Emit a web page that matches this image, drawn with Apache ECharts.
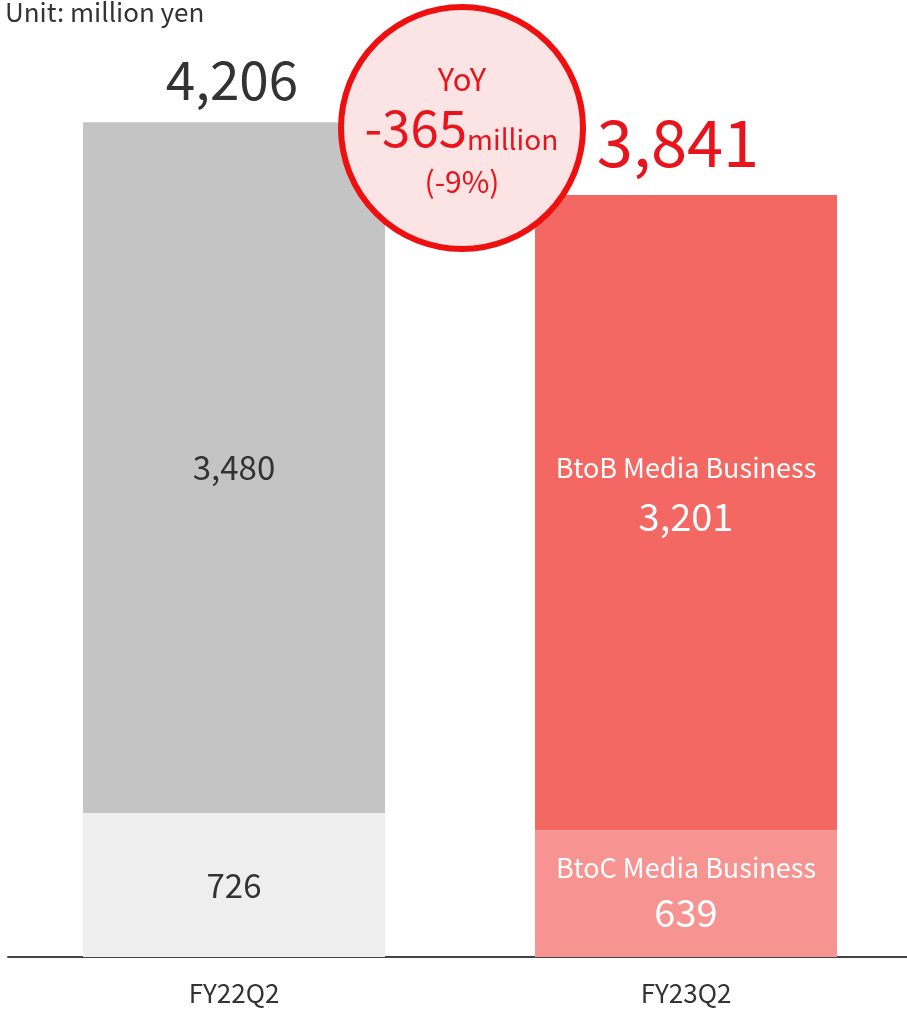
<!DOCTYPE html>
<html>
<head>
<meta charset="utf-8">
<script src="https://cdn.jsdelivr.net/npm/echarts@6/dist/echarts.min.js"></script>
<style>
  html, body { margin: 0; padding: 0; background: #fff; overflow: hidden; }
  #chart { width: 912px; height: 1011px; }
</style>
</head>
<body>
<div id="chart"></div>
<script>
// Net sales by segment (million yen)
const periods = ['FY22Q2', 'FY23Q2'];
const btocSales = [726, 639];
const btobSales = [3480, 3201];
const totalSales = [4206, 3841];
const segmentNames = ['BtoB Media Business', 'BtoC Media Business'];
const unitText = 'Unit: million yen';

const FONT = '"Noto Sans CJK JP", "Noto Sans", sans-serif';
const fmt = v => v.toLocaleString('en-US');

const yoyDiff = totalSales[1] - totalSales[0];
const yoyPct = Math.round(yoyDiff / totalSales[0] * 100);

const grayTop = '#c4c4c4', grayBottom = '#efefef';
const redTop = '#f46864', redBottom = '#f79492';
const RED = '#e8141b';
const BADGE_Z = 100; // badge sits above the bars

const chart = echarts.init(document.getElementById('chart'), null, { renderer: 'canvas' });

chart.setOption({
  animation: false,
  textStyle: { fontFamily: FONT },
  grid: { left: 8, right: 0, top: 64, bottom: 54, containLabel: false },
  xAxis: {
    type: 'category',
    data: periods,
    axisLine: { lineStyle: { color: '#444', width: 2 } },
    axisTick: { show: false },
    axisLabel: { fontSize: 26, color: '#333', margin: 23, fontFamily: FONT }
  },
  yAxis: {
    type: 'value', min: 0, max: 4500,
    show: false, splitLine: { show: false }
  },
  series: [
    {
      name: segmentNames[1], type: 'bar', stack: 'sales', barWidth: 302,
      data: [
        {
          value: btocSales[0], itemStyle: { color: grayBottom },
          label: { show: true, position: 'inside', color: '#333', fontSize: 33, formatter: p => fmt(p.value) }
        },
        {
          value: btocSales[1], itemStyle: { color: redBottom },
          label: {
            show: true, position: 'inside', offset: [0, -2],
            formatter: p => '{n|' + segmentNames[1] + '}\n{v|' + fmt(p.value) + '}',
            rich: {
              n: { fontSize: 27, lineHeight: 42, color: '#fff', fontFamily: FONT },
              v: { fontSize: 38, lineHeight: 48, color: '#fff', fontFamily: FONT }
            }
          }
        }
      ]
    },
    {
      name: segmentNames[0], type: 'bar', stack: 'sales', barWidth: 302,
      data: [
        {
          value: btobSales[0], itemStyle: { color: grayTop },
          label: { show: true, position: 'inside', color: '#333', fontSize: 33, formatter: p => fmt(p.value) }
        },
        {
          value: btobSales[1], itemStyle: { color: redTop },
          label: {
            show: true, position: 'inside', offset: [0, -19],
            formatter: p => '{n|' + segmentNames[0] + '}\n{v|' + fmt(p.value) + '}',
            rich: {
              n: { fontSize: 27, lineHeight: 46, color: '#fff', fontFamily: FONT },
              v: { fontSize: 38, lineHeight: 52, color: '#fff', fontFamily: FONT }
            }
          }
        }
      ]
    },
    {
      name: 'Total', type: 'bar', barWidth: 302, barGap: '-100%', z: 1,
      itemStyle: { color: 'rgba(0,0,0,0)' },
      data: [
        {
          value: totalSales[0],
          label: { show: true, position: 'top', distance: 16, color: '#333', fontSize: 53, offset: [-2, 0], formatter: p => fmt(p.value) }
        },
        {
          value: totalSales[1],
          label: { show: true, position: 'top', distance: 20, color: RED, fontSize: 65, offset: [-8, 0], formatter: p => fmt(p.value) }
        }
      ]
    }
  ],
  graphic: [
    {
      type: 'text', left: 5, top: -1, z: BADGE_Z,
      style: { text: unitText, font: '26px ' + FONT, fill: '#333' }
    },
    {
      // year-on-year badge
      type: 'group', x: 462, y: 128, z: BADGE_Z,
      children: [
        {
          type: 'circle', z: BADGE_Z, shape: { cx: 0, cy: 0, r: 121 },
          style: { fill: '#fce4e4', stroke: '#ee1010', lineWidth: 6 }
        },
        {
          type: 'text', z: BADGE_Z + 1, x: 0, y: -49,
          style: { text: 'YoY', font: '31px ' + FONT, fill: RED, align: 'center', verticalAlign: 'middle' }
        },
        {
          type: 'text', z: BADGE_Z + 1, x: 5, y: 0,
          style: { text: String(yoyDiff), font: '51px ' + FONT, fill: RED, align: 'right', verticalAlign: 'middle' }
        },
        {
          type: 'text', z: BADGE_Z + 1, x: 5, y: 11,
          style: { text: 'million', font: '28px ' + FONT, fill: RED, align: 'left', verticalAlign: 'middle' }
        },
        {
          type: 'text', z: BADGE_Z + 1, x: 0, y: 54,
          style: { text: '(' + yoyPct + '%)', font: '30px ' + FONT, fill: RED, align: 'center', verticalAlign: 'middle' }
        }
      ]
    }
  ]
});
</script>
</body>
</html>
